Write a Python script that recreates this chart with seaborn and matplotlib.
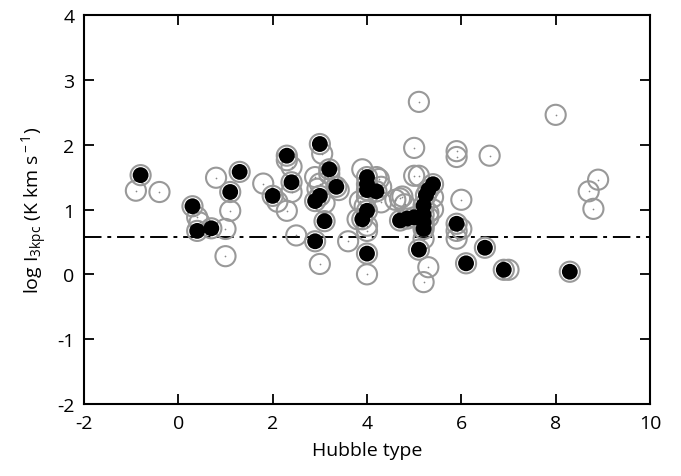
import matplotlib
matplotlib.use("Agg")
import matplotlib.pyplot as plt
import seaborn as sns
import pandas as pd

# Detected galaxies (filled symbols)
det_type = [-0.8, 0.3, 0.4, 0.7, 1.1, 1.3, 2.0, 2.3, 2.4, 2.9, 2.9, 3.0, 3.0, 3.1, 3.2, 3.35,
            4.0, 4.0, 4.0, 3.9, 4.0, 4.2, 4.7, 4.85, 5.0, 5.1, 5.2, 5.2, 5.2, 5.2, 5.25, 5.3, 5.4,
            5.9, 6.1, 6.5, 6.9, 8.3, 4.0]
det_logI = [1.53, 1.05, 0.67, 0.71, 1.27, 1.58, 1.21, 1.83, 1.42, 0.51, 1.13, 1.21, 2.01, 0.82, 1.62, 1.35,
            1.50, 1.39, 0.98, 0.85, 0.32, 1.28, 0.83, 0.86, 0.88, 0.38, 0.70, 0.80, 0.92, 1.06, 1.22, 1.30, 1.39,
            0.78, 0.17, 0.41, 0.07, 0.04, 1.30]

# Other galaxies (open symbols only)
oth_type = [-0.9, -0.4, 0.4, 0.8, 1.0, 1.0, 1.1, 1.8, 2.1, 2.3, 2.4, 2.4, 2.5, 3.05, 2.9, 3.0,
            3.0, 2.95, 3.1, 3.6, 3.9, 4.2, 3.85, 3.8, 4.0, 4.3, 4.0, 4.0, 4.0, 3.95,
            4.7, 4.8, 4.75, 5.0, 5.1, 5.3, 5.3, 5.2, 5.0, 5.1, 5.9, 5.9, 6.6, 6.0,
            5.4, 5.4, 5.9, 6.0, 5.9, 5.2, 5.3, 5.2, 7.0, 8.0, 8.9, 8.7, 8.8, 3.2,
            4.25, 4.3, 4.6, 2.3, 0.45, 3.4]
oth_logI = [1.29, 1.27, 0.88, 1.49, 0.70, 0.28, 0.98, 1.40, 1.12, 0.98, 1.66, 1.27, 0.60, 1.86, 1.50, 1.40,
            0.16, 1.32, 1.10, 0.51, 1.62, 1.50, 1.13, 0.85, 0.75, 1.11, 0.00, 0.67, 1.20, 1.05,
            1.17, 1.08, 1.20, 1.52, 1.52, 0.88, 0.11, -0.12, 1.95, 2.66, 1.90, 1.81, 1.83, 1.15,
            1.19, 1.00, 0.67, 0.70, 0.55, 0.75, 0.95, 0.55, 0.07, 2.46, 1.46, 1.28, 1.01, 1.55,
            1.47, 1.35, 1.15, 1.76, 0.80, 1.30]

threshold = 0.58
xticks = [-2, 0, 2, 4, 6, 8, 10]
yticks = [-2, -1, 0, 1, 2, 3, 4]

sns.set_style("ticks")
plt.rcParams['font.family'] = ['Open Sans', 'DejaVu Sans']
plt.rcParams['mathtext.fontset'] = 'custom'
plt.rcParams['mathtext.rm'] = 'Open Sans'
plt.rcParams['mathtext.it'] = 'Open Sans'

all_df = pd.DataFrame({"t": oth_type + det_type, "logI": oth_logI + det_logI})
det_df = pd.DataFrame({"t": det_type, "logI": det_logI})

fig = plt.figure(figsize=(6.81, 4.77), dpi=100)
ax = fig.add_axes([84/681, 1-405/477, (650-84)/681, (405-16)/477])

ax.axhline(threshold, color="black", lw=1.4, linestyle=(0, (9, 3, 2, 3)), zorder=1)

sns.scatterplot(data=all_df, x="t", y="logI", ax=ax, s=210, marker="o",
                facecolor="none", edgecolor="#999999", linewidth=1.5, zorder=2)
sns.scatterplot(data=all_df, x="t", y="logI", ax=ax, s=1.5, marker="o",
                color="#888888", linewidth=0, zorder=2)
sns.scatterplot(data=det_df, x="t", y="logI", ax=ax, s=130, marker="o",
                color="black", edgecolor="none", linewidth=0, zorder=3)

ax.set_xlim(-2, 10)
ax.set_ylim(-2, 4)
ax.set_xticks(xticks)
ax.set_yticks(yticks)
ax.set_xticklabels([str(v) for v in xticks])
ax.set_yticklabels([str(v) for v in yticks])
ax.tick_params(direction="in", length=7, width=1.3, labelsize=14,
               top=True, right=True, pad=7, color="black", labelcolor="black")
for sp in ax.spines.values():
    sp.set_linewidth(1.5)
    sp.set_color("black")
    sp.set_visible(True)

ax.set_xlabel("Hubble type", fontsize=14, labelpad=7, color="black")
ax.set_ylabel(r"log I$_{\rm 3kpc}$ (K km s$^{\rm -1}$)", fontsize=14, labelpad=5, color="black")

fig.savefig("out.png", dpi=100)
